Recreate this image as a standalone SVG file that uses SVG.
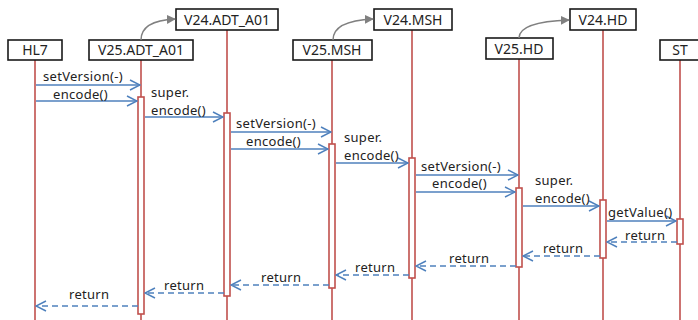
<svg xmlns="http://www.w3.org/2000/svg" width="698" height="320" viewBox="0 0 698 320">
<style>
.box{fill:#fff;stroke:#1a1a1a;stroke-width:1.6}
.nl{font-family:"Noto Sans","DejaVu Sans",sans-serif;font-size:14px;fill:#222;text-anchor:middle}
.ml{font-family:"Noto Sans","DejaVu Sans",sans-serif;font-size:13px;fill:#222;letter-spacing:0.3px}
.life{stroke:#c0504d;stroke-width:1.6}
.act{fill:#fff;stroke:#c0504d;stroke-width:1.6}
.msg{stroke:#4f81bd;stroke-width:1.5;fill:none;marker-end:url(#oa)}
.ret{stroke:#4f81bd;stroke-width:1.5;fill:none;stroke-dasharray:6 4;marker-end:url(#oa)}
.inh{stroke:#808080;stroke-width:1.5;fill:none;marker-end:url(#ga)}
</style>
<defs>
<marker id="oa" viewBox="0 0 12 12" refX="11" refY="6" markerWidth="12" markerHeight="12" markerUnits="userSpaceOnUse" orient="auto">
<path d="M1,1 L11,6 L1,11" fill="none" stroke="#4f81bd" stroke-width="1.5"/>
</marker>
<marker id="ga" viewBox="0 0 10 10" refX="9" refY="5" markerWidth="9" markerHeight="9" markerUnits="userSpaceOnUse" orient="auto">
<path d="M0,0 L10,5 L0,10 Z" fill="#808080"/>
</marker>
</defs>
<rect width="698" height="320" fill="#fff"/>

<g id="lifelines">
<line class="life" x1="35" y1="60" x2="35" y2="320"/>
<line class="life" x1="141" y1="60" x2="141" y2="320"/>
<line class="life" x1="227" y1="30" x2="227" y2="320"/>
<line class="life" x1="332" y1="60" x2="332" y2="320"/>
<line class="life" x1="412" y1="30" x2="412" y2="320"/>
<line class="life" x1="519" y1="59" x2="519" y2="320"/>
<line class="life" x1="603" y1="30" x2="603" y2="320"/>
<line class="life" x1="680" y1="60" x2="680" y2="320"/>
</g>

<g id="activations">
<rect class="act" x="138" y="97" width="6" height="217"/>
<rect class="act" x="224" y="113" width="6" height="183"/>
<rect class="act" x="329" y="144" width="6" height="144"/>
<rect class="act" x="409" y="158" width="6" height="120"/>
<rect class="act" x="516" y="188" width="6" height="79"/>
<rect class="act" x="600" y="200" width="6" height="58"/>
<rect class="act" x="677" y="219" width="6" height="25"/>
</g>

<g id="HL7"><rect class="box" x="8" y="40" width="54" height="20"/><text class="nl" x="35" y="55">HL7</text></g>
<g id="V25_ADT_A01"><rect class="box" x="89" y="40" width="104" height="20"/><text class="nl" x="141" y="55">V25.ADT_A01</text></g>
<g id="V24_ADT_A01"><rect class="box" x="176" y="9" width="102" height="21"/><text class="nl" x="227" y="25">V24.ADT_A01</text></g>
<g id="V25_MSH"><rect class="box" x="293" y="40" width="79" height="20"/><text class="nl" x="332" y="55">V25.MSH</text></g>
<g id="V24_MSH"><rect class="box" x="374" y="9" width="78" height="21"/><text class="nl" x="413" y="25">V24.MSH</text></g>
<g id="V25_HD"><rect class="box" x="486" y="38" width="67" height="21"/><text class="nl" x="519" y="54">V25.HD</text></g>
<g id="V24_HD"><rect class="box" x="570" y="9" width="66" height="21"/><text class="nl" x="603" y="25">V24.HD</text></g>
<g id="ST"><rect class="box" x="660" y="40" width="40" height="20"/><text class="nl" x="680" y="55">ST</text></g>

<g id="connectors">
<path class="inh" d="M141,40 C141,26 155,20 175,19"/>
<path class="inh" d="M333,40 C333,26 350,20 373,19"/>
<path class="inh" d="M519,38 C519,26 540,21 569,20"/>

<line class="msg" x1="36" y1="85" x2="140" y2="85"/>
<line class="msg" x1="36" y1="101" x2="137" y2="101"/>
<line class="msg" x1="145" y1="117" x2="223" y2="117"/>
<line class="msg" x1="231" y1="132" x2="331" y2="132"/>
<line class="msg" x1="231" y1="149" x2="328" y2="149"/>
<line class="msg" x1="336" y1="163" x2="408" y2="163"/>
<line class="msg" x1="416" y1="175" x2="518" y2="175"/>
<line class="msg" x1="416" y1="192" x2="515" y2="192"/>
<line class="msg" x1="523" y1="206" x2="599" y2="206"/>
<line class="msg" x1="607" y1="221" x2="676" y2="221"/>

<line class="ret" x1="677" y1="242" x2="607" y2="242"/>
<line class="ret" x1="600" y1="256" x2="523" y2="256"/>
<line class="ret" x1="516" y1="266" x2="416" y2="266"/>
<line class="ret" x1="409" y1="275" x2="336" y2="275"/>
<line class="ret" x1="329" y1="285" x2="231" y2="285"/>
<line class="ret" x1="224" y1="293" x2="145" y2="293"/>
<line class="ret" x1="138" y1="306" x2="36" y2="306"/>
</g>

<g id="labels">
<text class="ml" x="43" y="81">setVersion(-)</text>
<text class="ml" x="53" y="99">encode()</text>
<text class="ml" x="151" y="96.5">super.</text>
<text class="ml" x="151" y="114.5">encode()</text>
<text class="ml" x="236" y="128">setVersion(-)</text>
<text class="ml" x="246" y="146">encode()</text>
<text class="ml" x="344" y="141.5">super.</text>
<text class="ml" x="344" y="159.5">encode()</text>
<text class="ml" x="421" y="171">setVersion(-)</text>
<text class="ml" x="432" y="188">encode()</text>
<text class="ml" x="535" y="184.5">super.</text>
<text class="ml" x="535" y="202.5">encode()</text>
<text class="ml" x="608" y="217">getValue()</text>
<text class="ml" x="625" y="240">return</text>
<text class="ml" x="543" y="253">return</text>
<text class="ml" x="449" y="263">return</text>
<text class="ml" x="355" y="272">return</text>
<text class="ml" x="261" y="282">return</text>
<text class="ml" x="164" y="290">return</text>
<text class="ml" x="69" y="299">return</text>
</g>
</svg>
